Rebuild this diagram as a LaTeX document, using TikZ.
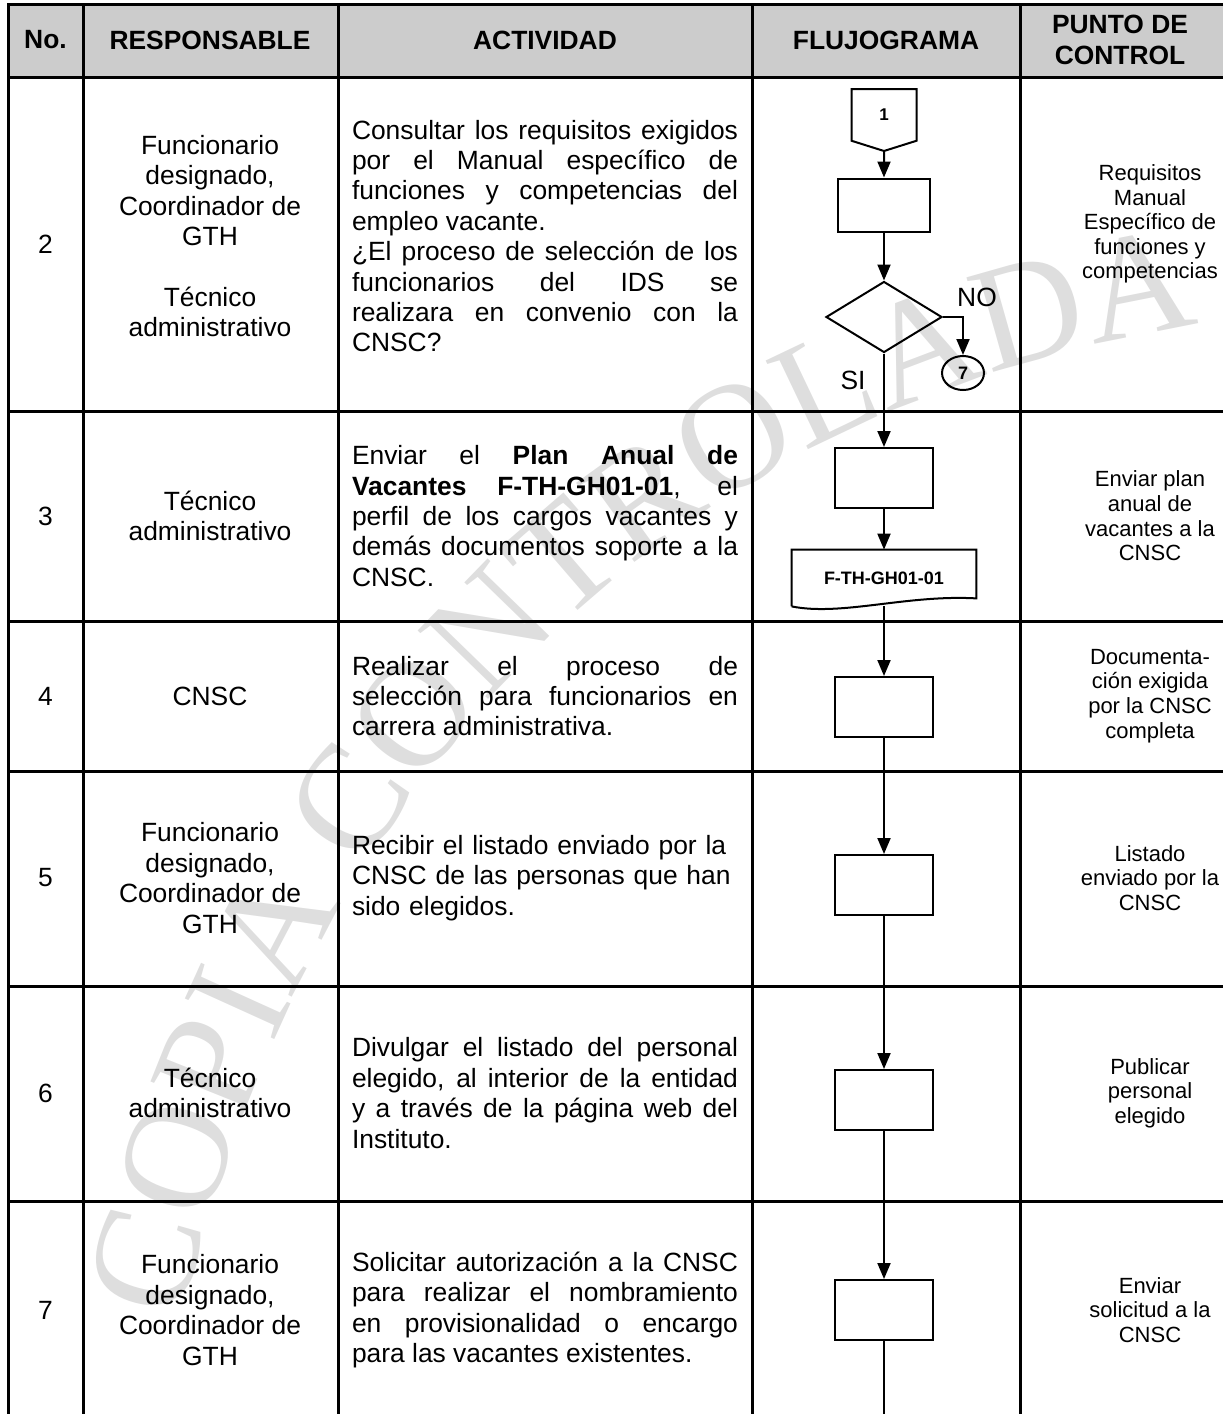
\documentclass[tikz,border=0pt]{standalone}
\usepackage{fontspec}
\setmainfont{Liberation Sans}
\newfontfamily\wmfont{Liberation Serif}
\usetikzlibrary{arrows.meta,positioning,calc,shapes.geometric,shapes.symbols,decorations.text}

\begin{document}
\begin{tikzpicture}[x=0.5pt,y=-0.5pt,>={Triangle[length=8pt,width=6.5pt]},
    every node/.style={font=\fontsize{13.2}{15.2}\selectfont},
    rule/.style={line width=1.5pt},
    hd/.style={align=center,font=\bfseries\fontsize{13.2}{15.8}\selectfont},
    proc/.style={draw,line width=1pt,minimum width=49pt,minimum height=30pt,inner sep=0pt},
    flow/.style={->,line width=1pt},
    resp/.style={align=center},
    act/.style={text width=193pt,align=justify,inner sep=0pt},
    ctrl/.style={align=center,font=\fontsize{11}{12.3}\selectfont}]

\useasboundingbox (0,0) rectangle (1223,1414);

\fill[black!20] (8,4) rectangle (1223,77);

% marca de agua
\path[decorate,decoration={text along path,text align=center,
    text={|\wmfont\fontsize{75}{75}\selectfont\color{black!13}|COPIA CONTROLADA}}]
    (175,1350) .. controls (300,780) and (660,400) .. (1228,320);

% tabla
\draw[rule] (1223,4) -- (8,4) -- (8,1414);
\foreach \x in {83,338,752,1020} \draw[rule] (\x,4) -- (\x,1414);
\foreach \y in {77,411,621,771,986,1201} \draw[rule] (8,\y) -- (1223,\y);

\node[hd] (hno) at (45.5,40) {No.};
\node[hd] (hresp) at (210,40) {RESPONSABLE};
\node[hd] (hact) at (545,40) {ACTIVIDAD};
\node[hd] (hflu) at (886,40) {FLUJOGRAMA};
\node[hd] (hctrl) at (1120,40) {PUNTO DE\\CONTROL};

% No.
\node (n2) at (45.5,244) {2}; \node (n3) at (45.5,516) {3};
\node (n4) at (45.5,696) {4}; \node (n5) at (45.5,878) {5};
\node (n6) at (45.5,1093) {6}; \node (n7) at (45.5,1310) {7};

% responsable
\node[resp] (r2) at (210,236) {Funcionario\\designado,\\Coordinador de\\GTH\\[15.2pt]Técnico\\administrativo};
\node[resp] (r3) at (210,516) {Técnico\\administrativo};
\node[resp] (r4) at (210,696) {CNSC};
\node[resp] (r5) at (210,878) {Funcionario\\designado,\\Coordinador de\\GTH};
\node[resp] (r6) at (210,1093) {Técnico\\administrativo};
\node[resp] (r7) at (210,1310) {Funcionario\\designado,\\Coordinador de\\GTH};

% actividad
\node[act] (t2) at (545,236) {Consultar los requisitos exigidos\linebreak por el Manual específico de\linebreak funciones y competencias del\linebreak empleo vacante.\par ¿El proceso de selección de los\linebreak funcionarios del IDS se\linebreak realizara en convenio con la\linebreak CNSC?};
\node[act] (t3) at (545,516) {Enviar el \textbf{Plan Anual de}\linebreak \textbf{Vacantes F-TH-GH01-01}, el\linebreak perfil de los cargos vacantes y\linebreak demás documentos soporte a la\linebreak CNSC.};
\node[act] (t4) at (545,696) {Realizar el proceso de\linebreak selección para funcionarios en\linebreak carrera administrativa.};
\node[act,align=left] (t5) at (545,878) {Recibir el listado enviado por la\\CNSC de las personas que han\\sido elegidos.};
\node[act] (t6) at (545,1093) {Divulgar el listado del personal\linebreak elegido, al interior de la entidad\linebreak y a través de la página web del\linebreak Instituto.};
\node[act] (t7) at (545,1310) {Solicitar autorización a la CNSC\linebreak para realizar el nombramiento\linebreak en provisionalidad o encargo\linebreak para las vacantes existentes.};

% punto de control
\node[ctrl] (p2) at (1150,224) {Requisitos\\Manual\\Específico de\\funciones y\\competencias};
\node[ctrl] (p3) at (1150,516) {Enviar plan\\anual de\\vacantes a la\\CNSC};
\node[ctrl] (p4) at (1150,696) {Documenta-\\ción exigida\\por la CNSC\\completa};
\node[ctrl] (p5) at (1150,878) {Listado\\enviado por la\\CNSC};
\node[ctrl] (p6) at (1150,1093) {Publicar\\personal\\elegido};
\node[ctrl] (p7) at (1150,1310) {Enviar\\solicitud a la\\CNSC};

% flujograma
\node[draw,line width=1pt,shape=signal,signal to=south,signal pointer angle=145,
    minimum width=32.5pt,minimum height=26.5pt,inner sep=0pt,
    font=\bfseries\fontsize{8.5}{8.5}\selectfont] (c1) at (884,115) {1};
\node[proc,minimum width=46pt,minimum height=26.5pt] (a1) at (884,205) {};
\node[draw,diamond,line width=1pt,minimum width=58pt,minimum height=35.5pt,inner sep=0pt] (dec) at (884,317) {};
\node[draw,ellipse,line width=1pt,minimum width=21pt,minimum height=17pt,inner sep=0pt,
    font=\bfseries\fontsize{9}{9}\selectfont] (c7) at (963,373) {7};
\node (no) at (977,297) {NO};
\node (si) at (853,380) {SI};
\node[proc] (a2) at (884,478) {};
\node[minimum width=92pt,minimum height=28pt,inner sep=0pt,
    font=\bfseries\fontsize{9}{9}\selectfont] (doc) at (884,578) {F-TH-GH01-01};
\draw[line width=1pt] (doc.south west) -- (doc.north west) -- (doc.north east)
    -- ($(doc.south east)+(0,-8)$) .. controls +(-70,-4) and +(50,10) .. (doc.south west);
\node[proc] (a3) at (884,707) {};
\node[proc] (a4) at (884,885) {};
\node[proc] (a5) at (884,1100) {};
\node[proc] (a6) at (884,1310) {};
\coordinate (fin) at (884,1414);

\path[flow] (c1) edge (a1) (a1) edge (dec) (dec) edge (a2) (a2) edge (doc)
    (doc) edge (a3) (a3) edge (a4) (a4) edge (a5) (a5) edge (a6);
\draw[flow] (dec.east) -| (c7);
\draw[line width=1pt] (a6) -- (fin);

\end{tikzpicture}
\end{document}
